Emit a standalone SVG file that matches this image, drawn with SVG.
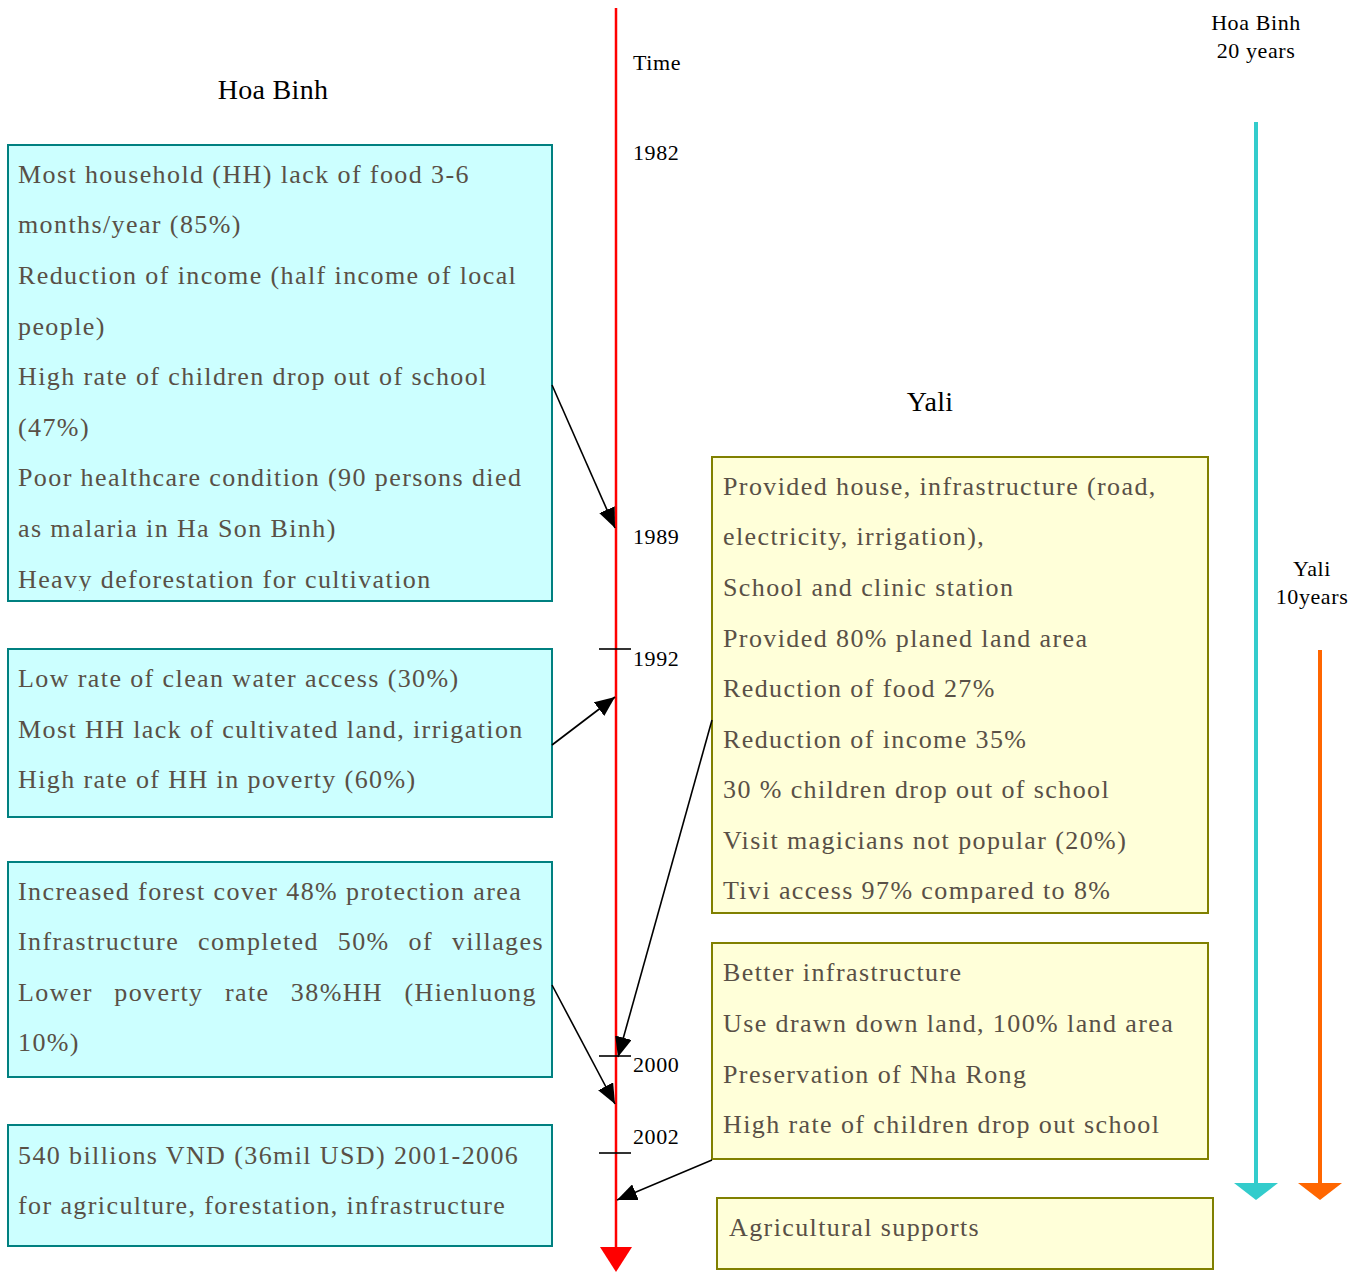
<svg xmlns="http://www.w3.org/2000/svg" width="1364" height="1272" viewBox="0 0 1364 1272">
<style>
.t{font-family:"Liberation Serif","Times New Roman",serif;font-size:26px;fill:#595046;letter-spacing:1.4px}
.lab{font-family:"Liberation Serif","Times New Roman",serif;font-size:22px;fill:#000;letter-spacing:0.6px}
.title{font-family:"Liberation Serif","Times New Roman",serif;font-size:28px;fill:#000;letter-spacing:0.3px}
.cyan{fill:#ccffff;stroke:#008080;stroke-width:2}
.yel{fill:#ffffd9;stroke:#808000;stroke-width:2}
.conn{stroke:#000;stroke-width:1.6;fill:none;marker-end:url(#ah)}
.tick{stroke:#000;stroke-width:1.6}
</style>
<defs>
<marker id="ah" viewBox="0 0 10 10" refX="10" refY="5" markerWidth="20" markerHeight="17" markerUnits="userSpaceOnUse" orient="auto" preserveAspectRatio="none"><path d="M0,0 L10,5 L0,10 Z" fill="#000"/></marker>
<clipPath id="c1"><rect x="8" y="145" width="544" height="446"/></clipPath>
<clipPath id="c2"><rect x="712" y="457" width="496" height="446"/></clipPath>
</defs>
<text class="title" x="273" y="99" text-anchor="middle">Hoa Binh</text>
<text class="title" x="930" y="411" text-anchor="middle">Yali</text>
<g id="timeline">
<line x1="616" y1="8" x2="616" y2="1250" stroke="#ff0000" stroke-width="2.5"/>
<path d="M600,1247 L632,1247 L616,1272 Z" fill="#ff0000"/>
<line class="tick" x1="599" y1="649" x2="631" y2="649"/>
<line class="tick" x1="599" y1="1056" x2="631" y2="1056"/>
<line class="tick" x1="599" y1="1153" x2="631" y2="1153"/>
<text class="lab" x="633" y="70">Time</text>
<text class="lab" x="633" y="160">1982</text>
<text class="lab" x="633" y="544">1989</text>
<text class="lab" x="633" y="666">1992</text>
<text class="lab" x="633" y="1072">2000</text>
<text class="lab" x="633" y="1144">2002</text>
</g>
<g id="hb1">
<rect class="cyan" x="8" y="145" width="544" height="456"/>
<g clip-path="url(#c1)">
<text class="t" x="18" y="183">Most household (HH) lack of food 3-6</text>
<text class="t" x="18" y="233">months/year (85%)</text>
<text class="t" x="18" y="284">Reduction of income (half income of local</text>
<text class="t" x="18" y="335">people)</text>
<text class="t" x="18" y="385">High rate of children drop out of school</text>
<text class="t" x="18" y="436">(47%)</text>
<text class="t" x="18" y="486">Poor healthcare condition (90 persons died</text>
<text class="t" x="18" y="537">as malaria in Ha Son Binh)</text>
<text class="t" x="18" y="588">Heavy deforestation for cultivation</text>
</g>
</g>
<g id="hb2">
<rect class="cyan" x="8" y="649" width="544" height="168"/>
<text class="t" x="18" y="687">Low rate of clean water access (30%)</text>
<text class="t" x="18" y="738">Most HH lack of cultivated land, irrigation</text>
<text class="t" x="18" y="788">High rate of HH in poverty (60%)</text>
</g>
<g id="hb3">
<rect class="cyan" x="8" y="862" width="544" height="215"/>
<text class="t" x="18" y="900">Increased forest cover 48% protection area</text>
<text class="t" x="18" y="950" word-spacing="11">Infrastructure completed 50% of villages</text>
<text class="t" x="18" y="1001" word-spacing="13.5">Lower poverty rate 38%HH (Hienluong</text>
<text class="t" x="18" y="1051">10%)</text>
</g>
<g id="hb4">
<rect class="cyan" x="8" y="1125" width="544" height="121"/>
<text class="t" x="18" y="1164">540 billions VND (36mil USD) 2001-2006</text>
<text class="t" x="18" y="1214">for agriculture, forestation, infrastructure</text>
</g>
<g id="y1">
<rect class="yel" x="712" y="457" width="496" height="456"/>
<g clip-path="url(#c2)">
<text class="t" x="723" y="495">Provided house, infrastructure (road,</text>
<text class="t" x="723" y="545">electricity, irrigation),</text>
<text class="t" x="723" y="596">School and clinic station</text>
<text class="t" x="723" y="647">Provided 80% planed land area</text>
<text class="t" x="723" y="697">Reduction of food 27%</text>
<text class="t" x="723" y="748">Reduction of income 35%</text>
<text class="t" x="723" y="798">30 % children drop out of school</text>
<text class="t" x="723" y="849">Visit magicians not popular (20%)</text>
<text class="t" x="723" y="899">Tivi access 97% compared to 8%</text>
</g>
</g>
<g id="y2">
<rect class="yel" x="712" y="943" width="496" height="216"/>
<text class="t" x="723" y="981">Better infrastructure</text>
<text class="t" x="723" y="1032">Use drawn down land, 100% land area</text>
<text class="t" x="723" y="1083">Preservation of Nha Rong</text>
<text class="t" x="723" y="1133">High rate of children drop out school</text>
</g>
<g id="y3">
<rect class="yel" x="717" y="1198" width="496" height="71"/>
<text class="t" x="729" y="1236">Agricultural supports</text>
</g>
<g id="legend">
<text class="lab" x="1256" y="30" text-anchor="middle">Hoa Binh</text>
<text class="lab" x="1256" y="58" text-anchor="middle">20 years</text>
<line x1="1256" y1="122" x2="1256" y2="1184" stroke="#33cccc" stroke-width="4"/>
<path d="M1234,1183 L1278,1183 L1256,1200 Z" fill="#33cccc"/>
<text class="lab" x="1312" y="576" text-anchor="middle">Yali</text>
<text class="lab" x="1312" y="604" text-anchor="middle">10years</text>
<line x1="1320" y1="650" x2="1320" y2="1184" stroke="#ff6600" stroke-width="4"/>
<path d="M1298,1183 L1342,1183 L1320,1200 Z" fill="#ff6600"/>
</g>
<g id="connectors">
<line class="conn" x1="552" y1="385" x2="615" y2="528"/>
<line class="conn" x1="552" y1="745" x2="615" y2="697"/>
<line class="conn" x1="712" y1="720" x2="618" y2="1057"/>
<line class="conn" x1="552" y1="985" x2="615" y2="1104"/>
<line class="conn" x1="712" y1="1160" x2="617" y2="1200"/>
</g>
</svg>
